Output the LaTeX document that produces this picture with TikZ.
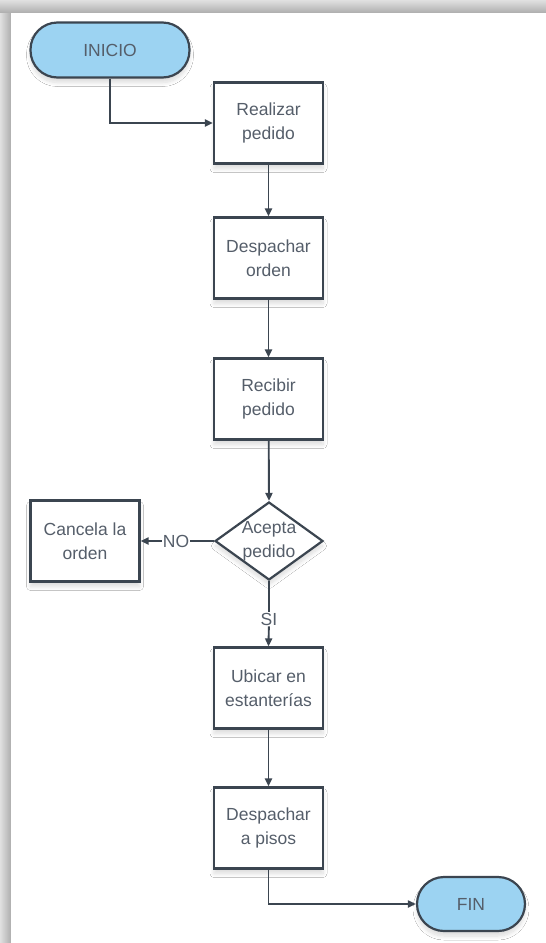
\documentclass[tikz,border=0pt]{standalone}
\usepackage{fontspec}
\setmainfont{Liberation Sans}
\usetikzlibrary{shapes.geometric,arrows.meta,shadows.blur}
\definecolor{linec}{HTML}{3B4550}
\definecolor{txtc}{HTML}{555E6A}
\definecolor{pillfill}{HTML}{9CD3F2}
\newcommand{\lblfont}{\fontsize{17.5}{24}\selectfont}

\begin{document}
\begin{tikzpicture}[x=1pt,y=-1pt,
  softshadow/.style={blur shadow={shadow xshift=0pt, shadow yshift=-5pt,
      shadow blur radius=4pt, shadow blur steps=8, shadow opacity=14}},
  box/.style={draw=linec, line width=2.2pt, fill=white, minimum width=109pt,
      minimum height=81pt, inner sep=0pt, align=center, text=txtc,
      font=\lblfont, softshadow},
  pill/.style={box, fill=pillfill, rounded corners=27pt},
  decision/.style={diamond, draw=linec, line width=2.2pt, fill=white,
      minimum width=108pt, minimum height=78pt, inner sep=0pt, softshadow},
  txt/.style={align=center, text=txtc, font=\lblfont, inner sep=0pt},
  edgelbl/.style={txt, fill=white, inner sep=1pt},
  link/.style={draw=linec, line width=1.9pt},
  conn/.style={link, -{Triangle[length=8pt,width=7pt]}}]

% page and its grey frame
\useasboundingbox (0,0) rectangle (546,943);
\fill[white] (0,0) rectangle (546,943);
\shade[top color=black!12, bottom color=black!32] (0,0) rectangle (546,13);
\shade[left color=black!12, right color=black!32] (0,13) rectangle (11,943);
\fill[white] (11,13) rectangle (546,943);

% terminals and steps
\node[pill, minimum width=159pt, minimum height=55pt] (inicio) at (110,50) {INICIO};
\node[box] (realizar) at (268.5,123) {Realizar\\pedido};
\node[box] (despachar) at (268.5,258) {Despachar\\orden};
\node[box] (recibir) at (268.5,399) {Recibir\\pedido};
\node[decision] (acepta) at (269,541) {};
\node[txt] (aceptatxt) at (acepta.center) {Acepta\\pedido};
\node[box] (cancela) at (85,541) {Cancela la\\orden};
\node[box] (ubicar) at (268.5,688) {Ubicar en\\estanterías};
\node[box] (pisos) at (268.5,828) {Despachar\\a pisos};
\node[pill, minimum width=108pt, minimum height=54pt] (fin) at (471,904) {FIN};

% branch labels
\node[edgelbl] (no) at (176,541) {NO};
\node[edgelbl] (si) at (269,619) {SI};

% connectors
\draw[conn] (inicio.south) |- (realizar.west);
\draw[conn] (realizar) -- (despachar);
\draw[conn] (despachar) -- (recibir);
\draw[conn] (recibir) -- (acepta.north);
\draw[link] (acepta.west) -- (no);
\draw[conn] (no) -- (cancela.east);
\draw[link] (acepta.south) -- (si);
\draw[conn] (si) -- (ubicar.north);
\draw[conn] (ubicar) -- (pisos);
\draw[conn] (pisos.south) |- (fin.west);
\end{tikzpicture}
\end{document}
